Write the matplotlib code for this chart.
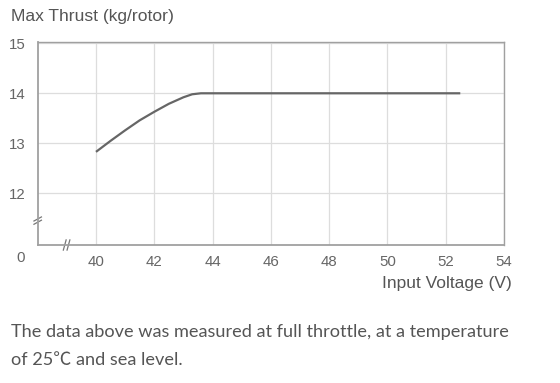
import matplotlib
matplotlib.use("Agg")
import matplotlib.pyplot as plt

# data
voltage = [40, 40.5, 41, 41.5, 42, 42.5, 43, 43.3, 43.6, 44, 48, 52.5]
thrust = [12.83, 13.05, 13.26, 13.46, 13.63, 13.79, 13.92, 13.98, 14.0, 14.0, 14.0, 14.0]

xticks = [40, 42, 44, 46, 48, 50, 52, 54]
yticks = [12, 13, 14, 15]

plt.rcParams['font.family'] = ['Liberation Sans', 'DejaVu Sans']

fig = plt.figure(figsize=(5.6, 3.83), dpi=100)
ax = fig.add_axes([0.0673, 0.3603, 0.8327, 0.5308])

ax.plot(voltage, thrust, color='#666666', lw=1.6, solid_capstyle='butt')

ax.set_xlim(38, 54)
ax.set_ylim(10.97, 15.03)
ax.set_xticks(xticks)
ax.set_yticks(yticks)
ax.tick_params(length=0, labelsize=10.8, labelcolor='#666666')
ax.tick_params(axis='x', pad=7)
ax.tick_params(axis='y', pad=9)
ax.grid(True, color='#dddddd', lw=0.9)
ax.set_axisbelow(True)
for s in ax.spines.values():
    s.set_color('#a0a0a0')
    s.set_linewidth(1.0)
ax.spines['left'].set_linewidth(1.3)
ax.spines['bottom'].set_linewidth(1.3)

# origin label
ax.text(37.4, -0.066, '0', transform=ax.get_xaxis_transform(), ha='center',
        va='center', fontsize=10.8, color='#666666', clip_on=False)

# axis break marks
for dx in (-0.004, 0.004):
    ax.plot([0.059 + dx, 0.065 + dx], [-0.025, 0.025], transform=ax.transAxes,
            color='#777777', lw=0.9, clip_on=False)
for dy in (-0.008, 0.008):
    ax.plot([-0.008, 0.008], [0.11 + dy, 0.13 + dy], transform=ax.transAxes,
            color='#777777', lw=0.9, clip_on=False)

fig.text(0.02, 0.956, 'Max Thrust (kg/rotor)', fontsize=12.6, color='#555555',
         ha='left', va='center')
fig.text(0.914, 0.261, 'Input Voltage (V)', fontsize=12.5, color='#555555',
         ha='right', va='center')

cap_font = ['Lato', 'Noto Sans CJK SC', 'DejaVu Sans']
fig.text(0.02, 0.134, 'The data above was measured at full throttle, at a temperature',
         family=cap_font, fontsize=13.05, color='#555555', ha='left', va='center')
fig.text(0.02, 0.06, 'of 25\u2103 and sea level.',
         family=cap_font, fontsize=13.05, color='#555555', ha='left', va='center')

fig.savefig('out.png', dpi=100)
